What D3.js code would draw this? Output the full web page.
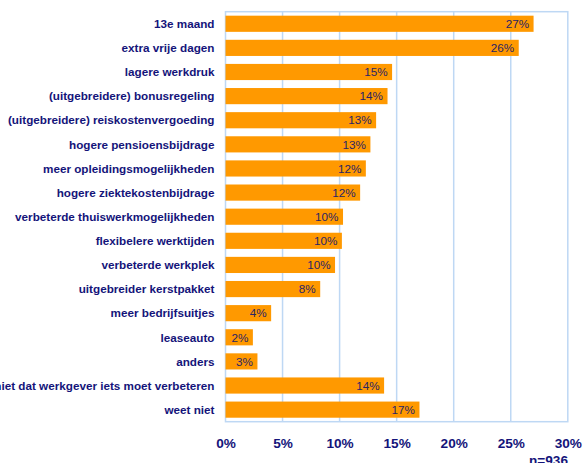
<!DOCTYPE html>
<html>
<head>
<meta charset="utf-8">
<script src="https://cdn.jsdelivr.net/npm/d3@7"></script>
<style>
  body { margin: 0; background: #fff; }
  .cat { font: bold 11.7px "Liberation Sans", Arial, sans-serif; fill: #14147a; }
  .val { font: 11.7px "Liberation Sans", Arial, sans-serif; fill: #2a2466; }
  .tick-lbl { font: bold 13.6px "Liberation Sans", Arial, sans-serif; fill: #14147a; }
  .grid { stroke: #bed8f4; stroke-width: 1.5; }
</style>
</head>
<body>
<script>
var categories = [
  '13e maand', 'extra vrije dagen', 'lagere werkdruk', '(uitgebreidere) bonusregeling',
  '(uitgebreidere) reiskostenvergoeding', 'hogere pensioensbijdrage',
  'meer opleidingsmogelijkheden', 'hogere ziektekostenbijdrage',
  'verbeterde thuiswerkmogelijkheden', 'flexibelere werktijden', 'verbeterde werkplek',
  'uitgebreider kerstpakket', 'meer bedrijfsuitjes', 'leaseauto', 'anders',
  'niet dat werkgever iets moet verbeteren', 'weet niet'
];
var values = [27.0, 25.7, 14.6, 14.2, 13.2, 12.7, 12.3, 11.8, 10.3, 10.2, 9.6, 8.3, 4.0, 2.4, 2.8, 13.9, 17.0];
var ticks = [0, 5, 10, 15, 20, 25, 30];
var note = 'n=936';

var svgWidth = 583, svgHeight = 463,
    plotLeft = 225.5, plotRight = 567.8, plotTop = 11.7, plotBottom = 421.7;

var svg = d3.select('body').append('svg')
  .attr('width', svgWidth)
  .attr('height', svgHeight);

var x = d3.scaleLinear().domain([0, 30]).range([plotLeft, plotRight]);
var y = d3.scaleBand().domain(categories).range([plotTop, plotBottom])
  .paddingInner(0.33).paddingOuter(0.165);

// gridlines + plot border
svg.append('g').selectAll('line')
  .data(ticks.slice(1, -1))
  .join('line')
    .attr('class', 'grid')
    .attr('x1', function (d) { return x(d); })
    .attr('x2', function (d) { return x(d); })
    .attr('y1', plotTop)
    .attr('y2', plotBottom);

svg.append('rect')
  .attr('x', plotLeft).attr('y', plotTop)
  .attr('width', plotRight - plotLeft).attr('height', plotBottom - plotTop)
  .attr('fill', 'none')
  .attr('class', 'grid');

// bars
svg.append('g').selectAll('rect')
  .data(values)
  .join('rect')
    .attr('x', x(0))
    .attr('y', function (d, i) { return y(categories[i]); })
    .attr('width', function (d) { return x(d) - x(0); })
    .attr('height', y.bandwidth())
    .attr('fill', '#ff9900');

// value labels
svg.append('g').selectAll('text')
  .data(values)
  .join('text')
    .attr('class', 'val')
    .attr('x', function (d) { return x(d) - 4.5; })
    .attr('y', function (d, i) { return y(categories[i]) + y.bandwidth() / 2; })
    .attr('dy', '0.36em')
    .attr('text-anchor', 'end')
    .text(function (d) { return Math.round(d) + '%'; });

// category labels
var yAxis = d3.axisLeft(y).tickSize(0).tickPadding(11);
svg.append('g')
  .attr('transform', 'translate(' + plotLeft + ',0)')
  .call(yAxis)
  .call(function (g) { g.select('.domain').remove(); })
  .selectAll('text')
    .attr('class', 'cat')
    .attr('fill', null)
    .attr('dy', '0.36em');

// x axis labels
var xAxis = d3.axisBottom(x).tickValues(ticks).tickSize(0).tickPadding(0)
  .tickFormat(function (d) { return d + '%'; });
svg.append('g')
  .attr('transform', 'translate(0,448)')
  .call(xAxis)
  .call(function (g) { g.select('.domain').remove(); })
  .selectAll('text')
    .attr('class', 'tick-lbl')
    .attr('fill', null)
    .attr('dy', 0);

svg.append('text')
  .attr('class', 'tick-lbl')
  .attr('x', 568)
  .attr('y', 465)
  .attr('text-anchor', 'end')
  .text(note);
</script>
</body>
</html>
